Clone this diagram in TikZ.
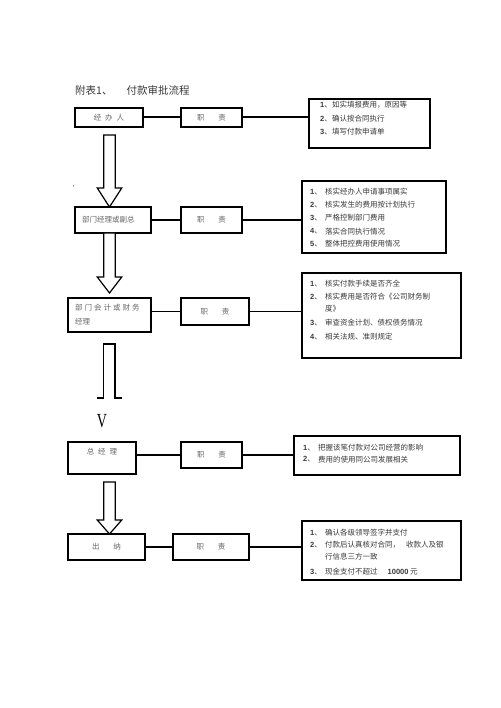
\documentclass[tikz,border=0pt]{standalone}
\usepackage{fontspec}
\setmainfont{Noto Sans CJK SC}
\newfontfamily\latinf{Liberation Sans}
\newfontfamily\seriff{Liberation Serif}
\definecolor{labelgray}{HTML}{666666}
\definecolor{textgray}{HTML}{3A3A3A}
\newcommand\blkarrow[4]{%
  \draw[barrow] (#1-5.75,#2) -- (#1+5.75,#2) -- (#1+5.75,#3) -- (#1+12.25,#3)
    -- (#1,#4) -- (#1-12.25,#3) -- (#1-5.75,#3) -- cycle;}
\newcommand\numb[1]{{\latinf\bfseries #1}、}
\begin{document}
\begin{tikzpicture}[x=1pt,y=-1pt,
  box/.style={draw=black, line width=1.3pt, inner sep=0pt, text=labelgray,
    font=\fontsize{7.5}{9}\selectfont},
  tbox/.style={draw=black, line width=1.5pt, inner sep=0pt},
  lbl/.style={anchor=west, inner sep=0pt, text=labelgray, font=\fontsize{7.5}{9}\selectfont},
  item/.style={anchor=west, inner sep=0pt, text=textgray, font=\fontsize{7.5}{9}\selectfont},
  link/.style={line width=1.3pt},
  thick link/.style={line width=2pt},
  barrow/.style={draw=black, line width=1.2pt, fill=white, line join=miter}]
\useasboundingbox[fill=white] (0,0) rectangle (500,708);

% title
\node[anchor=west, inner sep=0pt, text=textgray, font=\fontsize{10.5}{12}\selectfont]
  (title) at (75,90) {附表1、\hspace{14pt}付款审批流程};
\node[inner sep=0pt, font=\fontsize{6}{6}\selectfont] (mark) at (76,188) {'};

% row 1
\node[box, minimum width=68pt, minimum height=19pt] (a1) at (109,117.5) {经\hspace{4pt}办\hspace{4pt}人};
\node[box, minimum width=61pt, minimum height=19pt] (b1) at (211.5,117.5) {职\hspace{14pt}责};
\node[tbox, minimum width=121pt, minimum height=49pt] (c1) at (369.5,123.5) {};
\draw[thick link] (a1.east) -- (b1.west);
\draw[thick link] (b1.east) -- (b1.east -| c1.west);
\node[item] (c1n1) at (320,105) {\numb{1}};
\node[item] (c1t1) at (332,105) {如实填报费用，原因等};
\node[item] (c1n2) at (320,119) {\numb{2}};
\node[item] (c1t2) at (332,119) {确认按合同执行};
\node[item] (c1n3) at (320,132) {\numb{3}};
\node[item] (c1t3) at (332,132) {填写付款申请单};

% row 2
\node[box, minimum width=76pt, minimum height=26pt] (a2) at (113,220) {};
\node[lbl] (a2l) at (82,220) {部门经理或副总};
\node[box, minimum width=61pt, minimum height=26pt] (b2) at (211.5,220) {职\hspace{14pt}责};
\node[tbox, minimum width=144pt, minimum height=72pt] (c2) at (374,217) {};
\draw[link] (a2.east) -- (b2.west);
\draw[link] (b2.east) -- (b2.east -| c2.west);
\node[item] (c2n1) at (310,192) {\numb{1}};
\node[item] (c2t1) at (325,192) {核实经办人申请事项属实};
\node[item] (c2n2) at (310,205) {\numb{2}};
\node[item] (c2t2) at (325,205) {核实发生的费用按计划执行};
\node[item] (c2n3) at (310,218) {\numb{3}};
\node[item] (c2t3) at (325,218) {严格控制部门费用};
\node[item] (c2n4) at (310,231.5) {\numb{4}};
\node[item] (c2t4) at (325,231.5) {落实合同执行情况};
\node[item] (c2n5) at (310,244) {\numb{5}};
\node[item] (c2t5) at (325,244) {整体把控费用使用情况};

% row 3
\node[box, minimum width=83pt, minimum height=34pt] (a3) at (109.5,315) {};
\node[lbl] (a3l1) at (75,308) {部\hspace{2pt}门\hspace{2pt}会\hspace{2pt}计\hspace{2pt}或\hspace{2pt}财\hspace{2pt}务};
\node[lbl] (a3l2) at (75,322) {经理};
\node[box, minimum width=68pt, minimum height=27pt] (b3) at (215,311.5) {职\hspace{14pt}责};
\node[tbox, minimum width=159pt, minimum height=85pt] (c3) at (381.5,315.5) {};
\draw[link] (a3.east |- b3.west) -- (b3.west);
\draw[link] (b3.east) -- (b3.east -| c3.west);
\node[item] (c3n1) at (310,284) {\numb{1}};
\node[item] (c3t1) at (325,284) {核实付款手续是否齐全};
\node[item] (c3n2) at (310,297) {\numb{2}};
\node[item] (c3t2) at (325,297) {核实费用是否符合《公司财务制};
\node[item] (c3t2b) at (325,308.5) {度》};
\node[item] (c3n3) at (310,323) {\numb{3}};
\node[item] (c3t3) at (325,323) {审查资金计划、债权债务情况};
\node[item] (c3n4) at (310,337) {\numb{4}};
\node[item] (c3t4) at (325,337) {相关法规、准则规定};

% row 4
\node[box, minimum width=68pt, minimum height=32pt] (a4) at (102,458) {};
\node[inner sep=0pt, text=labelgray, font=\fontsize{7.5}{9}\selectfont] (a4l) at (102,452) {总\hspace{4pt}经\hspace{4pt}理};
\node[box, minimum width=61pt, minimum height=26pt] (b4) at (211.5,455) {职\hspace{14pt}责};
\node[tbox, minimum width=166pt, minimum height=39pt] (c4) at (377,455.5) {};
\draw[link] (a4.east |- b4.west) -- (b4.west);
\draw[link] (b4.east) -- (b4.east -| c4.west);
\node[item] (c4n1) at (303,448) {\numb{1}};
\node[item] (c4t1) at (318,448) {把握该笔付款对公司经营的影响};
\node[item] (c4n2) at (303,459.5) {\numb{2}};
\node[item] (c4t2) at (318,459.5) {费用的使用同公司发展相关};

% row 5
\node[box, minimum width=77pt, minimum height=26pt] (a5) at (106.5,547) {出\hspace{14pt}纳};
\node[box, minimum width=76pt, minimum height=26pt] (b5) at (211,547) {职\hspace{14pt}责};
\node[tbox, minimum width=159pt, minimum height=59pt] (c5) at (381.5,550.5) {};
\draw[link] (a5.east) -- (b5.west);
\draw[link] (b5.east) -- (b5.east -| c5.west);
\node[item] (c5n1) at (310,533) {\numb{1}};
\node[item] (c5t1) at (325,533) {确认各级领导签字并支付};
\node[item] (c5n2) at (310,545) {\numb{2}};
\node[item] (c5t2) at (325,545) {付款后认真核对合同，\hspace{6pt}收款人及银};
\node[item] (c5t2b) at (325,557) {行信息三方一致};
\node[item] (c5n3) at (310,572) {\numb{3}};
\node[item] (c5t3) at (325,572) {现金支付不超过\hspace{10pt}{\latinf\bfseries 10000} 元};

% block arrows
\blkarrow{109.5}{135}{188}{207}
\blkarrow{109.5}{233}{277}{293}
\draw[line width=1.2pt, line join=miter] (97,398) -- (103.5,398) -- (103.5,344) -- (115,344) -- (115,398) -- (122,398);
\node[inner sep=0pt, xscale=0.7, font=\seriff\fontsize{20}{20}\selectfont] (vmark) at (102,421) {V};
\blkarrow{109.5}{482}{520}{534}
\end{tikzpicture}
\end{document}
